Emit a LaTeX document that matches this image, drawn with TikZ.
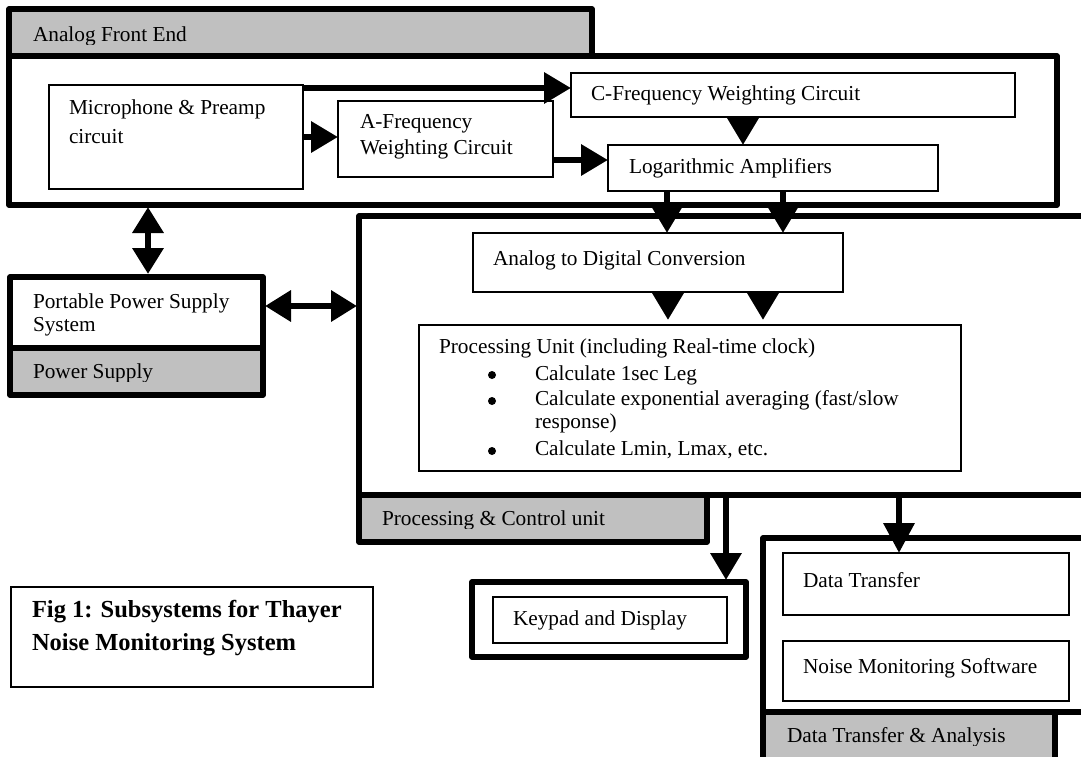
\documentclass[tikz,border=0pt]{standalone}
\usepackage{fontspec}
\setmainfont{Liberation Serif}
\usetikzlibrary{arrows.meta,calc}
\definecolor{hdrgray}{HTML}{C0C0C0}
\begin{document}
\begin{tikzpicture}[x=1pt,y=-1pt,
  every node/.style={inner sep=0pt, outer sep=0pt},
  txt/.style={anchor=base west, font=\fontsize{21.3}{25}\selectfont},
  figtxt/.style={anchor=base west, font=\fontsize{24.5}{30}\selectfont\bfseries},
  thinbox/.style={draw, line width=2pt, anchor=north west, rectangle},
  thickbox/.style={draw, line width=5.5pt, anchor=north west, rectangle, line join=round},
  bulletdot/.style={circle, fill=black, minimum size=8pt},
  arr/.style={line width=6.5pt, -{Triangle[length=27pt,width=30pt]}},
  arrlong/.style={line width=6.5pt, -{Triangle[length=30pt,width=30pt]}},
  darr/.style={line width=6.5pt, {Triangle[length=26pt,width=30pt]}-{Triangle[length=26pt,width=30pt]}},
]
\useasboundingbox (0,0) rectangle (1081,756);
\fill[white] (0,0) rectangle (1081,756);

% ---------- Analog Front End ----------
\node[thickbox, fill=hdrgray, minimum width=583pt, minimum height=47pt] (afehdr) at (9,9) {};
\node[thickbox, minimum width=1048pt, minimum height=149pt] (afe) at (9,56) {};
\begin{scope}
  \clip (0,0) rectangle (1081,44);
  \node[txt] (tafe) at (33,41) {Analog Front End};
\end{scope}

\node[thinbox, minimum width=254pt, minimum height=104pt] (mic) at (49,85) {};
\node[txt] (tmic1) at (69,114) {Microphone \& Preamp};
\node[txt] (tmic2) at (69,143) {circuit};

\node[thinbox, minimum width=215pt, minimum height=76pt] (abox) at (338,101) {};
\node[txt] (ta1) at (360,128) {A-Frequency};
\node[txt] (ta2) at (360,154) {Weighting Circuit};

\node[thinbox, minimum width=444pt, minimum height=44pt] (cbox) at (571,73) {};
\node[txt] (tc) at (591,100) {C-Frequency Weighting Circuit};

\node[thinbox, minimum width=330pt, minimum height=46pt] (log) at (608,145) {};
\node[txt] (tlog) at (629,173) {Logarithmic Amplifiers};

% ---------- Power Supply ----------
\node[thickbox, fill=hdrgray, minimum width=253pt, minimum height=47pt] (pwrhdr) at (10,348) {};
\node[thickbox, minimum width=253pt, minimum height=71pt] (pwr) at (10,277) {};
\node[txt] (tp1) at (33,308) {Portable Power Supply};
\node[txt] (tp2) at (33,331) {System};
\begin{scope}
  \clip (0,0) rectangle (1081,381);
  \node[txt] (tp3) at (33,378) {Power Supply};
\end{scope}

% ---------- Processing & Control ----------
\node[thickbox, fill=hdrgray, minimum width=348pt, minimum height=47pt] (pchdr) at (359,495) {};
\node[thickbox, minimum width=760pt, minimum height=279pt] (pc) at (359,216) {};
\begin{scope}
  \clip (0,0) rectangle (1081,528);
  \node[txt] (tpc) at (382,525) {Processing \& Control unit};
\end{scope}

\node[thinbox, minimum width=370pt, minimum height=59pt] (adc) at (473,233) {};
\node[txt] (tadc) at (493,265) {Analog to Digital Conversion};

\node[thinbox, minimum width=542pt, minimum height=146pt] (proc) at (419,325) {};
\node[txt] (tpr0) at (439,353) {Processing Unit (including Real-time clock)};
\node[bulletdot] (bu1) at (492,375) {};
\node[bulletdot] (bu2) at (492,401) {};
\node[bulletdot] (bu3) at (492,451) {};
\node[txt] (tpr1) at (535,380) {Calculate 1sec Leg};
\node[txt] (tpr2) at (535,405) {Calculate exponential averaging (fast/slow};
\node[txt] (tpr3) at (535,428) {response)};
\node[txt] (tpr4) at (535,455) {Calculate Lmin, Lmax, etc.};

% ---------- Keypad ----------
\node[thickbox, minimum width=274pt, minimum height=75pt] (kpframe) at (472,582) {};
\node[thinbox, minimum width=234pt, minimum height=46pt] (kp) at (493,597) {};
\node[txt] (tkp) at (513,625) {Keypad and Display};

% ---------- Data Transfer & Analysis ----------
\node[thickbox, fill=hdrgray, minimum width=292pt, minimum height=70pt] (dtahdr) at (763,712) {};
\node[thickbox, minimum width=400pt, minimum height=174pt] (dta) at (763,538) {};
\begin{scope}
  \clip (0,0) rectangle (1081,745);
  \node[txt] (tdta) at (787,742) {Data Transfer \& Analysis};
\end{scope}
\node[thinbox, minimum width=286pt, minimum height=62pt] (dt) at (783,553) {};
\node[txt] (tdt) at (803,587) {Data Transfer};
\node[thinbox, minimum width=286pt, minimum height=60pt] (nms) at (783,641) {};
\node[txt] (tnms) at (803,673) {Noise Monitoring Software};

% ---------- Figure caption ----------
\node[thinbox, minimum width=362pt, minimum height=100pt] (fig) at (11,587) {};
\node[figtxt] (tf1) at (32,617) {Fig 1: Subsystems for Thayer};
\node[figtxt] (tf2) at (32,650) {Noise Monitoring System};

% ---------- Connectors ----------
\coordinate (m1) at ([yshift=-3pt]mic.north east);
\draw[arr] (m1) -- (m1 -| cbox.west);
\draw[arr] (mic.east) -- (mic.east -| abox.west);
\coordinate (a1) at ([yshift=17pt]abox.south east);
\draw[arr] (a1) -- (a1 -| log.west);
\coordinate (c1) at ([xshift=-30pt]log.north);
\draw[arr] (c1 |- cbox.south) -- (c1);
\coordinate (l1) at ([xshift=-106pt]log.south);
\coordinate (l2) at ([xshift=10pt]log.south);
\draw[arr] (l1) -- (l1 |- adc.north);
\draw[arr] (l2) -- (l2 |- adc.north);
\coordinate (d1) at ([xshift=10pt]adc.south);
\coordinate (d2) at ([xshift=105pt]adc.south);
\draw[arr, shorten >=5pt] (d1) -- (d1 |- proc.north);
\draw[arr, shorten >=5pt] (d2) -- (d2 |- proc.north);
\coordinate (v1) at ([xshift=139pt]afe.south west);
\draw[darr, shorten <=2pt, shorten >=3pt] (v1) -- (v1 |- pwr.north);
\coordinate (h1) at ([yshift=-29pt]pwr.north east);
\draw[darr, shorten <=2pt, shorten >=2pt] (h1) -- (h1 -| pc.west);
\coordinate (p1) at ([xshift=367pt]pc.south west);
\draw[arr, shorten >=2pt] (p1) -- (p1 |- kpframe.north);
\coordinate (p2) at ([xshift=540pt]pc.south west);
\draw[arrlong] (p2) -- (p2 |- dt.north);
\end{tikzpicture}
\end{document}
